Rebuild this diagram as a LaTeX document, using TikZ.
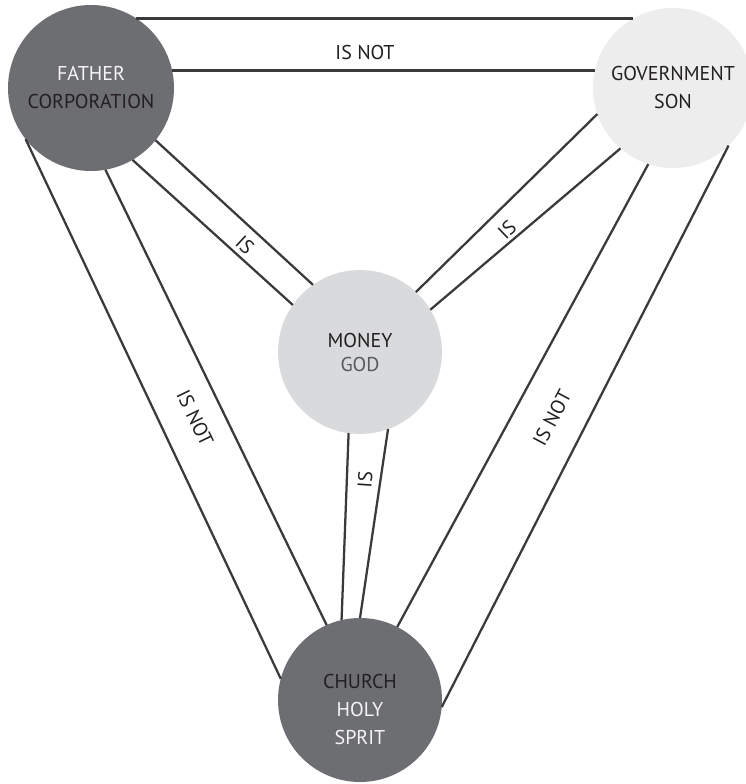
\documentclass[tikz,border=0pt]{standalone}
\usepackage{fontspec}
\setmainfont{PT Sans}
\definecolor{darkdisc}{RGB}{109,110,113}
\definecolor{lightdisc}{RGB}{237,237,238}
\definecolor{moneydisc}{RGB}{217,218,220}
\definecolor{linkgray}{RGB}{58,58,58}
\definecolor{inkdark}{RGB}{35,31,32}
\definecolor{inkmid}{RGB}{88,89,91}
\definecolor{inklight}{RGB}{245,245,245}

\begin{document}
\begin{tikzpicture}[x=0.75pt,y=-0.75pt,
    disc/.style={circle,inner sep=0pt,outer sep=0pt,align=center,
      font=\fontsize{15}{21}\selectfont},
    link/.style={draw=linkgray,line width=1.7pt},
    rel/.style={font=\fontsize{15}{18}\selectfont,text=inkdark,inner sep=1pt}]
  \useasboundingbox (0,0) rectangle (745,784);

  \node[disc,fill=darkdisc,minimum size=124.5pt] (father) at (91,88)
    {\textcolor{inklight}{FATHER}\\\textcolor{inkdark}{CORPORATION}};
  \node[disc,fill=lightdisc,minimum size=120pt,text=inkdark] (gov) at (673,88)
    {GOVERNMENT\\SON};
  \node[disc,fill=moneydisc,minimum size=123pt] (money) at (360,352)
    {\textcolor{inkdark}{MONEY}\\[-3pt]\textcolor{inkmid}{GOD}};
  \node[disc,fill=darkdisc,minimum size=123pt,
    label={[disc,yshift=-7pt]center:\textcolor{inkdark}{CHURCH}\\\textcolor{inklight}{HOLY}\\\textcolor{inklight}{SPRIT}}]
    (church) at (360,700) {};

  \draw[link,line width=2pt] (father.57) -- (father.57 -| gov.120);
  \draw[link,line width=2pt] (father.12.5) -- (father.12.5 -| gov.168);
  \draw[link] (father.-39) -- (money.125.6);
  \draw[link] (father.-60) -- (money.145.3);
  \draw[link] (father.218.8) -- (church.165.4);
  \draw[link] (father.-80) -- (church.114.6);
  \draw[link] (money.-98) -- (church.103.4);
  \draw[link] (money.-70.2) -- (church.90);
  \draw[link] (money.47.3) -- (gov.199.8);
  \draw[link] (money.31.7) -- (gov.229.2);
  \draw[link] (gov.252.3) -- (church.63.4);
  \draw[link] (gov.314) -- (church.-5.6);

  \node[rel] (lblfg) at (365,53) {IS NOT};
  \node[rel,rotate=-43] (lblfm) at (245,245) {IS};
  \node[rel,rotate=44] (lblgm) at (507,230) {IS};
  \node[rel,rotate=86] (lblmc) at (365,480) {IS};
  \node[rel,rotate=-64] (lblfc) at (195,418) {IS NOT};
  \node[rel,rotate=62] (lblgc) at (552,418) {IS NOT};
\end{tikzpicture}
\end{document}
